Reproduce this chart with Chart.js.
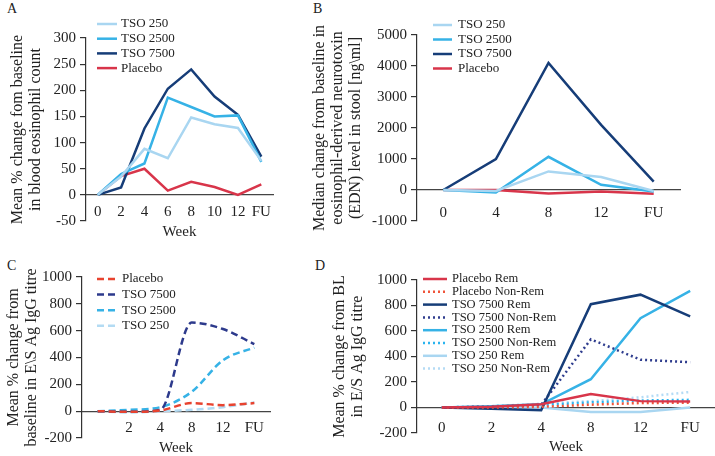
<!DOCTYPE html>
<html>
<head>
<meta charset="utf-8">
<script src="https://cdn.jsdelivr.net/npm/chart.js@4.4.1/dist/chart.umd.min.js"></script>
<style>
  html, body { margin: 0; padding: 0; background: #fff; width: 715px; height: 456px; overflow: hidden; }
  .panel { position: absolute; }
  .letter { position: absolute; font: 14px "Liberation Serif", serif; color: #222; }
</style>
</head>
<body>
<div class="letter" style="left:7px;top:1px">A</div>
<div class="letter" style="left:313px;top:1px">B</div>
<div class="letter" style="left:7px;top:258px">C</div>
<div class="letter" style="left:315px;top:258px">D</div>

<canvas class="panel" id="panelA" width="300" height="275" style="left:0;top:0"></canvas>
<canvas class="panel" id="panelB" width="415" height="255" style="left:300px;top:0"></canvas>
<canvas class="panel" id="panelC" width="300" height="246" style="left:0;top:245px"></canvas>
<canvas class="panel" id="panelD" width="395" height="244" style="left:320px;top:245px"></canvas>

<script>
// --- data ---
// A: blood eosinophil count, mean % change
const weeksA = ['0', '2', '4', '6', '8', '10', '12', 'FU']
const tso250A = [0, 35, 88, 70, 148, 135, 128, 65]
const tso2500A = [0, 40, 60, 186, 168, 150, 152, 63]
const tso7500A = [0, 14, 127, 203, 240, 188, 153, 73]
const placeboA = [0, 36, 50, 8, 25, 15, 0, 20]

// B: EDN in stool, median change
const weeksB = ['0', '4', '8', '12', 'FU']
const tso250B = [0, -30, 600, 420, -30]
const tso2500B = [0, -80, 1070, 170, -50]
const tso7500B = [0, 1000, 4100, 2100, 270]
const placeboB = [0, 0, -110, -50, -120]

// C: E/S Ag IgG titre, mean % change
const weeksC = ['0', '2', '4', '8', '12', 'FU']
const placeboC = [0, -5, 5, 60, 45, 60]
const tso7500C = [0, -5, 10, 660, 612, 500]
const tso2500C = [0, 10, 30, 144, 380, 474]
const tso250C = [0, -10, 0, 10, 30, 65]

// D: E/S Ag IgG titre by remission
const weeksD = ['0', '2', '4', '8', '12', 'FU']
const placeboRemD = [0, 5, 25, 105, 50, 48]
const placeboNonD = [0, 0, 5, 22, 35, 38]
const tso7500RemD = [0, -10, -22, 810, 885, 715]
const tso7500NonD = [0, 5, 20, 535, 375, 355]
const tso2500RemD = [0, 10, 25, 222, 700, 915]
const tso2500NonD = [0, 10, 20, 40, 55, 60]
const tso250RemD = [0, -5, 0, -35, -35, 0]
const tso250NonD = [0, 10, 30, 50, 80, 122]

const serif = '"Liberation Serif", "DejaVu Serif", serif'
Chart.defaults.font.family = serif
Chart.defaults.color = '#222'

const red = '#d8354a'
const navy = '#163d78'
const blue = '#36b2e6'
const pale = '#a9d6f1'

// legend drawn at fixed spot, like in the paper figure
const fixedLegend = {
  id: 'fixedLegend',
  afterDraw(chart, args, opts) {
    const ctx = chart.ctx
    ctx.save()
    ctx.font = opts.size + 'px ' + serif
    ctx.textBaseline = 'middle'
    ctx.fillStyle = '#222'
    chart.data.datasets.forEach((ds, i) => {
      const y = opts.y + i * opts.row
      ctx.strokeStyle = ds.borderColor
      ctx.lineWidth = ds.borderWidth
      ctx.setLineDash(ds.borderDash || [])
      ctx.beginPath()
      ctx.moveTo(opts.x, y)
      ctx.lineTo(opts.x + opts.len, y)
      ctx.stroke()
      ctx.setLineDash([])
      ctx.fillText(ds.label, opts.x + opts.len + opts.gap, y)
    })
    ctx.restore()
  }
}

function line(label, data, color, dash) {
  return {
    label: label,
    data: data,
    borderColor: color,
    backgroundColor: color,
    borderWidth: 2.5,
    borderDash: dash || [],
    pointRadius: 0,
    fill: false
  }
}

function makeChart(id, o) {
  return new Chart(document.getElementById(id), {
    type: 'line',
    data: { labels: o.labels, datasets: o.datasets },
    plugins: [fixedLegend],
    options: {
      responsive: false,
      animation: false,
      devicePixelRatio: 1,
      layout: { padding: o.padding },
      elements: { line: { tension: o.tension || 0, cubicInterpolationMode: o.cubic ? 'monotone' : 'default' } },
      plugins: {
        legend: { display: false },
        tooltip: { enabled: false },
        fixedLegend: o.legend
      },
      scales: {
        x: {
          type: 'category',
          offset: true,
          position: { y: 0 },
          grid: { display: false, drawTicks: false },
          border: { display: true, color: '#444', width: 1.2 },
          ticks: {
            padding: o.xPad,
            autoSkip: false,
            maxRotation: 0,
            font: { size: 15 },
            color: '#222',
            callback: function (v, i) {
              // panel C has no label under week 0
              return (o.hideFirst && i === 0) ? '' : this.getLabelForValue(v)
            }
          },
          title: { display: o.xTitle, text: 'Week', font: { size: 15, lineHeight: 1.12 }, color: '#222', padding: { top: 0, bottom: 4 } },
          afterFit: s => { s.height = o.xHeight }
        },
        y: {
          min: o.min,
          max: o.max,
          ticks: { stepSize: o.step, padding: 4, font: { size: 15 }, color: '#222', callback: v => String(v) },
          grid: { display: true, drawOnChartArea: false, drawTicks: true, tickLength: 6, color: '#333', lineWidth: 1.2 },
          border: { display: true, color: '#333', width: 1.2 },
          title: { display: true, text: o.yTitle, font: { size: 16, lineHeight: 1.12 }, color: '#222', padding: { top: 4, bottom: 0 } },
          afterFit: s => { s.width = o.yWidth }
        }
      }
    }
  })
}

makeChart('panelA', {
  labels: weeksA,
  datasets: [
    line('TSO 250', tso250A, pale),
    line('TSO 2500', tso2500A, blue),
    line('TSO 7500', tso7500A, navy),
    line('Placebo', placeboA, red)
  ],
  padding: { left: 5, top: 38, right: 27, bottom: 54 },
  min: -50, max: 300, step: 50,
  yTitle: ['Mean % change fom baseline', 'in blood eosinophil count'],
  yWidth: 81, xHeight: 50, xPad: 8, xTitle: true,
  legend: { x: 97, y: 24, row: 14.7, len: 20, gap: 4, size: 13 }
})

makeChart('panelB', {
  labels: weeksB,
  datasets: [
    line('TSO 250', tso250B, pale),
    line('TSO 2500', tso2500B, blue),
    line('TSO 7500', tso7500B, navy),
    line('Placebo', placeboB, red)
  ],
  padding: { left: 7, top: 35, right: 35, bottom: 34 },
  min: -1000, max: 5000, step: 1000,
  yTitle: ['Median change from baseline in', 'eosinophil-derived neurotoxin', '(EDN) level in stool [ng\\ml]'],
  yWidth: 110, xHeight: 30, xPad: 14, xTitle: false,
  legend: { x: 133, y: 25, row: 14.5, len: 19, gap: 6, size: 13 }
})

makeChart('panelC', {
  labels: weeksC,
  datasets: [
    line('Placebo', placeboC, '#e8432f', [7, 4]),
    line('TSO 7500', tso7500C, '#2d3a8c', [7, 4]),
    line('TSO 2500', tso2500C, blue, [7, 4]),
    line('TSO 250', tso250C, '#b3dbf3', [7, 4])
  ],
  padding: { left: 1, top: 32, right: 30, bottom: 53 },
  min: -200, max: 1000, step: 200,
  yTitle: ['Mean % change from', 'baseline in E\\S Ag IgG titre'],
  yWidth: 81, xHeight: 49, xPad: 8, xTitle: true, hideFirst: true, cubic: true, tension: 0.4,
  legend: { x: 97, y: 34, row: 15.6, len: 21, gap: 4, size: 13 }
})

makeChart('panelD', {
  labels: weeksD,
  datasets: [
    line('Placebo Rem', placeboRemD, red),
    line('Placebo Non-Rem', placeboNonD, '#f0553a', [2, 3]),
    line('TSO 7500 Rem', tso7500RemD, navy),
    line('TSO 7500 Non-Rem', tso7500NonD, '#2f3d8e', [2, 3]),
    line('TSO 2500 Rem', tso2500RemD, blue),
    line('TSO 2500 Non-Rem', tso2500NonD, '#2ab4ef', [2, 3]),
    line('TSO 250 Rem', tso250RemD, pale),
    line('TSO 250 Non-Rem', tso250NonD, '#b5dbf5', [2, 3])
  ],
  padding: { left: 7, top: 35, right: 0, bottom: 56 },
  min: -200, max: 1000, step: 200,
  yTitle: ['Mean % change from BL', 'in E/S Ag IgG titre'],
  yWidth: 90, xHeight: 52, xPad: 12, xTitle: true,
  legend: { x: 103, y: 34, row: 12.8, len: 24, gap: 5, size: 12.5 }
})
</script>
</body>
</html>
